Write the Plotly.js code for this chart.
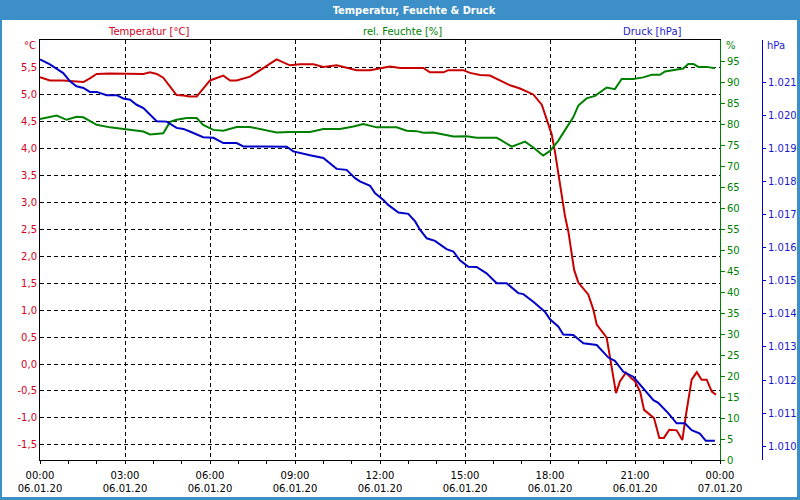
<!DOCTYPE html>
<html>
<head>
<meta charset="utf-8">
<script src="https://cdn.plot.ly/plotly-3.0.1.min.js"></script>
<style>html,body{margin:0;padding:0;background:#fff;}#chart{width:800px;height:500px;}</style>
</head>
<body>
<div id="chart"></div>
<script>
// ---- data (hours since 06.01.20 00:00) ----
const tempHours = [0,0.35,0.82,1.53,1.76,2.0,2.47,3.18,3.65,3.88,4.12,4.35,4.59,4.82,5.06,5.29,5.53,5.76,6.0,6.47,6.71,6.94,7.41,7.88,8.35,8.82,9.18,9.65,10.0,10.47,11.18,11.65,12.35,12.71,13.53,13.76,14.24,14.41,14.94,15.18,15.53,15.88,16.24,16.59,16.94,17.41,17.71,17.88,18.06,18.18,18.29,18.41,18.53,18.65,18.77,18.85,19.0,19.35,19.53,19.65,20.0,20.12,20.33,20.47,20.68,20.88,21.0,21.18,21.32,21.67,21.86,22.02,22.21,22.47,22.67,22.8,23.0,23.18,23.35,23.53,23.71,23.86];
const tempValues = [5.32,5.26,5.26,5.23,5.30,5.38,5.39,5.38,5.38,5.41,5.38,5.31,5.15,4.99,4.98,4.96,4.96,5.10,5.26,5.35,5.26,5.26,5.33,5.49,5.65,5.54,5.56,5.56,5.51,5.54,5.45,5.45,5.52,5.49,5.49,5.41,5.41,5.45,5.45,5.40,5.36,5.35,5.26,5.17,5.11,5.00,4.81,4.54,4.26,3.92,3.55,3.11,2.74,2.45,2.00,1.75,1.51,1.29,1.01,0.73,0.49,0.11,-0.54,-0.32,-0.16,-0.27,-0.32,-0.51,-0.85,-1.00,-1.37,-1.37,-1.22,-1.23,-1.41,-0.94,-0.29,-0.15,-0.29,-0.29,-0.51,-0.57];

const humHours = [0,0.59,0.94,1.29,1.53,2.0,2.47,3.18,3.65,3.88,4.35,4.59,4.82,5.18,5.53,5.76,6.12,6.47,6.94,7.41,7.88,8.35,8.82,9.53,10.0,10.59,11.06,11.41,11.88,12.59,12.94,13.29,13.53,13.88,14.24,14.59,15.06,15.41,16.12,16.24,16.65,17.12,17.41,17.76,18.0,18.29,18.59,18.82,19.0,19.29,19.59,20.0,20.29,20.53,20.94,21.29,21.59,21.88,22.06,22.7,22.88,23.06,23.24,23.53,23.82];
const humValues = [81.2,82.0,81.0,81.7,81.6,79.8,79.2,78.6,78.2,77.5,77.8,80.5,81.0,81.4,81.4,79.8,78.6,78.4,79.3,79.3,78.6,78.0,78.1,78.1,78.8,78.8,79.4,80.0,79.2,79.2,78.4,78.3,77.9,78.0,77.5,77.0,77.1,76.7,76.7,76.3,74.6,75.8,74.4,72.5,73.6,76.0,79.2,81.6,84.4,86.1,86.7,88.7,88.3,90.7,90.7,91.1,91.7,91.7,92.5,93.2,94.3,94.3,93.6,93.6,93.3];

const presHours = [0,0.35,0.82,1.06,1.29,1.53,1.76,2.0,2.35,2.71,2.94,3.18,3.41,3.65,4.12,4.47,4.82,5.06,5.29,5.76,6.12,6.47,6.94,7.18,7.88,8.71,8.94,9.18,9.53,10.0,10.47,10.82,11.12,11.29,11.65,11.82,12.12,12.29,12.65,13.0,13.24,13.41,13.65,13.94,14.18,14.35,14.59,14.71,14.82,15.12,15.41,15.76,16.12,16.47,16.88,17.06,17.41,17.82,18.0,18.29,18.47,18.82,19.18,19.65,20.06,20.29,20.59,20.94,21.24,21.65,21.82,22.18,22.47,22.76,23.0,23.29,23.5,23.82];
const presValues = [1021.70,1021.55,1021.29,1021.04,1020.89,1020.84,1020.72,1020.72,1020.62,1020.62,1020.52,1020.48,1020.33,1020.23,1019.83,1019.82,1019.63,1019.60,1019.52,1019.35,1019.33,1019.17,1019.17,1019.07,1019.07,1019.06,1018.92,1018.88,1018.80,1018.72,1018.39,1018.36,1018.11,1018.01,1017.88,1017.66,1017.45,1017.30,1017.07,1017.03,1016.80,1016.55,1016.29,1016.21,1016.06,1015.96,1015.89,1015.76,1015.62,1015.43,1015.42,1015.23,1014.93,1014.93,1014.63,1014.60,1014.37,1014.07,1013.84,1013.62,1013.38,1013.36,1013.11,1013.06,1012.68,1012.58,1012.25,1012.10,1011.80,1011.39,1011.31,1010.99,1010.69,1010.69,1010.48,1010.38,1010.16,1010.16];

const xTickVals = [0,3,6,9,12,15,18,21,24];
const xTickText = ["00:00<br>06.01.20","03:00<br>06.01.20","06:00<br>06.01.20","09:00<br>06.01.20","12:00<br>06.01.20","15:00<br>06.01.20","18:00<br>06.01.20","21:00<br>06.01.20","00:00<br>07.01.20"];
const tempTickVals = [-1.5,-1.0,-0.5,0.0,0.5,1.0,1.5,2.0,2.5,3.0,3.5,4.0,4.5,5.0,5.5];
const tempTickText = ["-1,5","-1,0","-0,5","0,0","0,5","1,0","1,5","2,0","2,5","3,0","3,5","4,0","4,5","5,0","5,5"];
const humTickVals = [0,5,10,15,20,25,30,35,40,45,50,55,60,65,70,75,80,85,90,95];
const presTickVals = [1010,1011,1012,1013,1014,1015,1016,1017,1018,1019,1020,1021];
const presTickText = ["1.010","1.011","1.012","1.013","1.014","1.015","1.016","1.017","1.018","1.019","1.020","1.021"];

// ---- styles ----
const RED = "#c80000", GREEN = "#008000", BLUE = "#0000c8";
const TXT_RED = "#d4001c", TXT_GREEN = "#008000", TXT_BLUE = "#1a1acc";
const BAR = "#3d8fc7";
const FONT = "DejaVu Sans";
const W = 800, H = 500, ML = 40, MR = 38, MT = 40, MB = 40;
const PW = W - ML - MR, PH = H - MT - MB;
const px = v => (v - ML) / PW;
const py = v => (H - MB - v) / PH;

const traces = [
  {x: tempHours, y: tempValues, type: "scatter", mode: "lines", line: {color: RED, width: 2}, yaxis: "y", hoverinfo: "skip"},
  {x: humHours, y: humValues, type: "scatter", mode: "lines", line: {color: GREEN, width: 2}, yaxis: "y2", hoverinfo: "skip"},
  {x: presHours, y: presValues, type: "scatter", mode: "lines", line: {color: BLUE, width: 2}, yaxis: "y3", hoverinfo: "skip"}
];

const layout = {
  width: W, height: H,
  margin: {l: ML, r: MR, t: MT, b: MB, pad: 0},
  paper_bgcolor: "#ffffff", plot_bgcolor: "#ffffff",
  showlegend: false,
  font: {family: FONT, size: 10, color: "#000"},
  title: {text: "<b>Temperatur, Feuchte & Druck</b>", font: {family: "DejaVu Sans Condensed, DejaVu Sans", size: 11, color: "#ffffff"},
          xref: "paper", x: px(414), xanchor: "center", yref: "container", y: 1 - 10/H, yanchor: "middle"},
  xaxis: {
    domain: [0, 680/PW], range: [0, 24], fixedrange: true,
    tickmode: "array", tickvals: xTickVals, ticktext: xTickText,
    ticks: "outside", ticklen: 3, tickcolor: "#000", ticklabelstandoff: 3,
    tickfont: {family: FONT, size: 10, color: "#000"},
    minor: {dtick: 1, tick0: 0, ticks: "outside", ticklen: 3, tickcolor: "#000", showgrid: false},
    showline: true, linecolor: "#000", linewidth: 1, mirror: true,
    showgrid: true, gridcolor: "#000", gridwidth: 1, griddash: "4px,3px", zeroline: false
  },
  yaxis: {
    range: [-1.78, 6.01], fixedrange: true,
    tickmode: "array", tickvals: tempTickVals, ticktext: tempTickText,
    ticks: "", tickfont: {family: FONT, size: 10, color: TXT_RED},
    showline: true, linecolor: "#000", linewidth: 1,
    showgrid: true, gridcolor: "#000", gridwidth: 1, griddash: "4px,3px", zeroline: false
  },
  yaxis2: {
    overlaying: "y", side: "right", anchor: "x", range: [0, 100], fixedrange: true,
    tickmode: "array", tickvals: humTickVals,
    ticks: "outside", ticklen: 4, tickcolor: GREEN, tickfont: {family: FONT, size: 10, color: TXT_GREEN},
    showline: true, linecolor: GREEN, linewidth: 1, showgrid: false, zeroline: false
  },
  yaxis3: {
    overlaying: "y", side: "right", anchor: "free", position: 1, range: [1009.58, 1022.29], fixedrange: true,
    tickmode: "array", tickvals: presTickVals, ticktext: presTickText,
    ticks: "outside", ticklen: 3, tickcolor: BLUE, tickfont: {family: FONT, size: 10, color: TXT_BLUE},
    showline: true, linecolor: BLUE, linewidth: 1, showgrid: false, zeroline: false
  },
  shapes: [
    {type: "rect", xref: "paper", yref: "paper", x0: px(0), x1: px(800), y0: py(20), y1: py(0), fillcolor: BAR, line: {width: 0}, layer: "below"},
    {type: "rect", xref: "paper", yref: "paper", x0: px(0), x1: px(2), y0: py(500), y1: py(20), fillcolor: BAR, line: {width: 0}},
    {type: "rect", xref: "paper", yref: "paper", x0: px(797), x1: px(800), y0: py(500), y1: py(20), fillcolor: BAR, line: {width: 0}},
    {type: "rect", xref: "paper", yref: "paper", x0: px(0), x1: px(800), y0: py(500), y1: py(497), fillcolor: BAR, line: {width: 0}}
  ],
  annotations: [
    {text: "Temperatur [°C]", xref: "paper", yref: "paper", x: px(148), y: py(31), xanchor: "center", yanchor: "middle", showarrow: false, font: {family: FONT, size: 10, color: TXT_RED}},
    {text: "rel. Feuchte [%]", xref: "paper", yref: "paper", x: px(402), y: py(31), xanchor: "center", yanchor: "middle", showarrow: false, font: {family: FONT, size: 10, color: TXT_GREEN}},
    {text: "Druck [hPa]", xref: "paper", yref: "paper", x: px(652), y: py(31), xanchor: "center", yanchor: "middle", showarrow: false, font: {family: FONT, size: 10, color: TXT_BLUE}},
    {text: "°C", xref: "paper", yref: "paper", x: px(38), y: py(46), xanchor: "right", yanchor: "middle", showarrow: false, font: {family: FONT, size: 10, color: TXT_RED}},
    {text: "%", xref: "paper", yref: "paper", x: px(724), y: py(46), xanchor: "left", yanchor: "middle", showarrow: false, font: {family: FONT, size: 10, color: TXT_GREEN}},
    {text: "hPa", xref: "paper", yref: "paper", x: px(765), y: py(46), xanchor: "left", yanchor: "middle", showarrow: false, font: {family: FONT, size: 10, color: TXT_BLUE}}
  ]
};

Plotly.newPlot("chart", traces, layout, {staticPlot: true, displayModeBar: false});
</script>
</body>
</html>
